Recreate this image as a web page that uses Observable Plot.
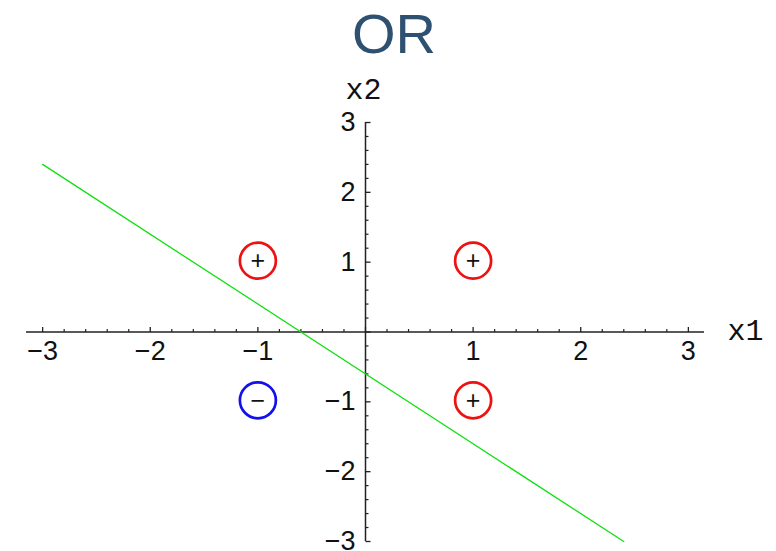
<!DOCTYPE html>
<html>
<head>
<meta charset="utf-8">
<script src="https://cdn.jsdelivr.net/npm/d3@7"></script>
<script src="https://cdn.jsdelivr.net/npm/@observablehq/plot@0.6"></script>
<style>
  html, body { margin: 0; padding: 0; background: #fff; overflow: hidden; }
  #title { width: 776px; height: 68px; line-height: 68px; text-align: center; box-sizing: border-box; padding-left: 12px;
           font-family: "Liberation Sans", Arial, sans-serif; font-size: 56px; color: #2e5172; }
  #chart svg { display: block; overflow: visible; }
</style>
</head>
<body>
<div id="title">OR</div>
<div id="chart"></div>
<script>
// ---- data ----
const titleText = "OR";
const pointX = [-1, 1, 1, -1];
const pointY = [1, 1, -1, -1];
const pointLabel = ["+", "+", "+", "−"];
const pointClass = ["pos", "pos", "pos", "neg"];
const lineX = [-3, 2.4];
const lineY = [2.4, -3];
const xExtent = [-3.15, 3.15];
const yExtent = [-3, 3];
const xTicks = [-3, -2, -1, 1, 2, 3];
const xTickLabels = ["−3", "−2", "−1", "1", "2", "3"];
const yTicks = [-3, -2, -1, 1, 2, 3];
const yTickLabels = ["−3", "−2", "−1", "1", "2", "3"];
const minorStep = 0.2;
const xAxisLabel = "x1";
const yAxisLabel = "x2";

// ---- derived tables ----
const points = pointX.map((x, i) => ({x, y: pointY[i], label: pointLabel[i], cls: pointClass[i]}));
const boundary = lineX.map((x, i) => ({x, y: lineY[i]}));
const minorX = d3.range(-3, 3 + 1e-9, minorStep).filter(v => Math.abs(v - Math.round(v)) > 1e-6);
const minorY = d3.range(-3, 3 + 1e-9, minorStep).filter(v => Math.abs(v - Math.round(v)) > 1e-6);
const majorXAll = [-3, -2, -1, 0, 1, 2, 3];
const majorYAll = [-3, -2, -1, 0, 1, 2, 3];

// custom tick symbols (fixed pixel lengths)
const tickSym = (len, dir) => ({
  draw(ctx) {
    ctx.moveTo(0, 0);
    if (dir === "up") ctx.lineTo(0, -len); else ctx.lineTo(len, 0);
  }
});

const axisColor = "#222";
const tickFont = "'Liberation Sans', Arial, sans-serif";
const monoFont = "'Liberation Mono', 'Courier New', monospace";

const chart = Plot.plot({
  width: 776,
  height: 483,
  marginTop: 54,
  marginBottom: 10,
  marginLeft: 26,
  marginRight: 72,
  x: {domain: xExtent, axis: null},
  y: {domain: yExtent, axis: null},
  style: {background: "transparent", overflow: "visible"},
  marks: [
    // axes lines
    Plot.ruleY([0], {x1: xExtent[0], x2: xExtent[1], stroke: axisColor, strokeWidth: 1.5}),
    Plot.ruleX([0], {y1: yExtent[0], y2: yExtent[1], stroke: axisColor, strokeWidth: 1.5}),
    // x ticks
    Plot.dot(majorXAll, {x: d => d, y: 0, symbol: tickSym(5, "up"), fill: "none", stroke: axisColor, strokeWidth: 1.3}),
    Plot.dot(minorX, {x: d => d, y: 0, symbol: tickSym(3, "up"), fill: "none", stroke: axisColor, strokeWidth: 1.2}),
    // y ticks
    Plot.dot(majorYAll, {x: 0, y: d => d, symbol: tickSym(5, "right"), fill: "none", stroke: axisColor, strokeWidth: 1.3}),
    Plot.dot(minorY, {x: 0, y: d => d, symbol: tickSym(3, "right"), fill: "none", stroke: axisColor, strokeWidth: 1.2}),
    // tick labels
    Plot.text(xTicks, {x: d => d, y: 0, text: (d, i) => xTickLabels[i], dy: 19, fontSize: 27, fontFamily: tickFont, fill: "#111", textAnchor: "middle"}),
    Plot.text(yTicks, {x: 0, y: d => d, text: (d, i) => yTickLabels[i], dx: -10, fontSize: 27, fontFamily: tickFont, fill: "#111", textAnchor: "end"}),
    // axis labels
    Plot.text([xAxisLabel], {x: xExtent[1], y: 0, text: d => d, dx: 23, dy: -2, textAnchor: "start", fontSize: 30, fontFamily: monoFont, fill: "#111"}),
    Plot.text([yAxisLabel], {x: 0, y: yExtent[1], text: d => d, dx: -2, dy: -33, textAnchor: "middle", fontSize: 30, fontFamily: monoFont, fill: "#111"}),
    // decision boundary
    Plot.line(boundary, {x: "x", y: "y", stroke: "#10e010", strokeWidth: 1.3}),
    // points
    Plot.dot(points, {x: "x", y: "y", r: 18, dy: -1.5, fill: "none", stroke: d => d.cls === "pos" ? "#ee1111" : "#1111ee", strokeWidth: 2.7}),
    Plot.text(points, {x: "x", y: "y", text: "label", dy: -1, fontSize: 25, fontFamily: tickFont, fill: "#111"})
  ]
});
document.getElementById("title").textContent = titleText;
document.getElementById("chart").appendChild(chart);
</script>
</body>
</html>
